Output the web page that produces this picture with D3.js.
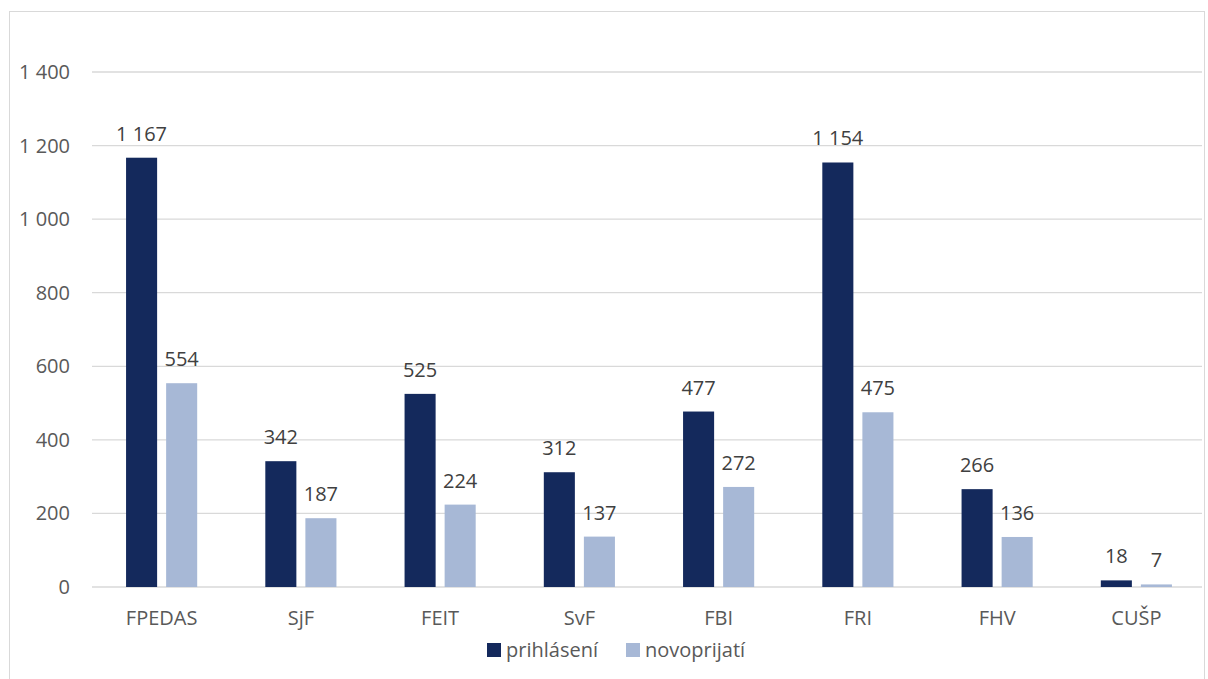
<!DOCTYPE html>
<html><head><meta charset="utf-8">
<script src="https://cdn.jsdelivr.net/npm/d3@7"></script>
<style>body{margin:0;background:#fff;}svg{display:block;font-family:"Open Sans",sans-serif;}</style>
</head><body><svg width="1208" height="679"></svg>
<script>
const categories = ["FPEDAS","SjF","FEIT","SvF","FBI","FRI","FHV","CUŠP"];
const seriesNames = ["prihlásení","novoprijatí"];
const prihlaseni = [1167,342,525,312,477,1154,266,18];
const novoprijati = [554,187,224,137,272,475,136,7];
const yTicks = [0,200,400,600,800,1000,1200,1400];
const colors = ["#14295C","#A7B8D6"];

const fmt = v => d3.format(",")(v).replace(/,/g," ");
const svg = d3.select("svg");
svg.append("rect").attr("x",9.5).attr("y",11.5).attr("width",1195).attr("height",700)
  .attr("fill","none").attr("stroke","#D9D9D9");

const x0 = d3.scaleBand().domain(categories).range([92,1206]);
const x1 = d3.scaleBand().domain(seriesNames).range([0,x0.bandwidth()]).paddingInner(0.225).paddingOuter(0.85);
const y = d3.scaleLinear().domain([0,1400]).range([587,72]);

const g = svg.append("g");
g.selectAll("line.grid").data(yTicks).join("line")
  .attr("x1",92).attr("x2",1202).attr("y1",d=>y(d)).attr("y2",d=>y(d))
  .attr("stroke","#D9D9D9").attr("stroke-width",1.3);
g.selectAll("text.yt").data(yTicks).join("text")
  .attr("x",70).attr("y",d=>y(d)).attr("dy","0.35em").attr("text-anchor","end")
  .attr("fill","#595959").attr("font-size",20).text(fmt);

const data = categories.map((c,i)=>({c, vals:[prihlaseni[i],novoprijati[i]]}));
const grp = g.selectAll("g.cat").data(data).join("g").attr("transform",d=>`translate(${x0(d.c)},0)`);
grp.selectAll("rect").data(d=>d.vals.map((v,j)=>({v,s:seriesNames[j],j}))).join("rect")
  .attr("x",d=>x1(d.s)).attr("width",x1.bandwidth())
  .attr("y",d=>y(d.v)).attr("height",d=>y(0)-y(d.v)).attr("fill",d=>colors[d.j]);
grp.selectAll("text").data(d=>d.vals.map((v,j)=>({v,s:seriesNames[j],j}))).join("text")
  .attr("x",d=>x1(d.s)+x1.bandwidth()/2).attr("y",d=>y(d.v)-17)
  .attr("text-anchor","middle").attr("fill","#404040").attr("font-size",20).text(d=>fmt(d.v));

g.selectAll("text.xl").data(categories).join("text")
  .attr("x",d=>x0(d)+x0.bandwidth()/2).attr("y",625).attr("text-anchor","middle")
  .attr("fill","#595959").attr("font-size",20).text(d=>d);

const lg = svg.append("g");
const lx = [487,626];
seriesNames.forEach((s,i)=>{
  lg.append("rect").attr("x",lx[i]).attr("y",643).attr("width",14).attr("height",14).attr("fill",colors[i]);
  lg.append("text").attr("x",lx[i]+19).attr("y",650).attr("dy","0.35em").attr("fill","#595959").attr("font-size",20).text(s);
});
</script></body></html>
